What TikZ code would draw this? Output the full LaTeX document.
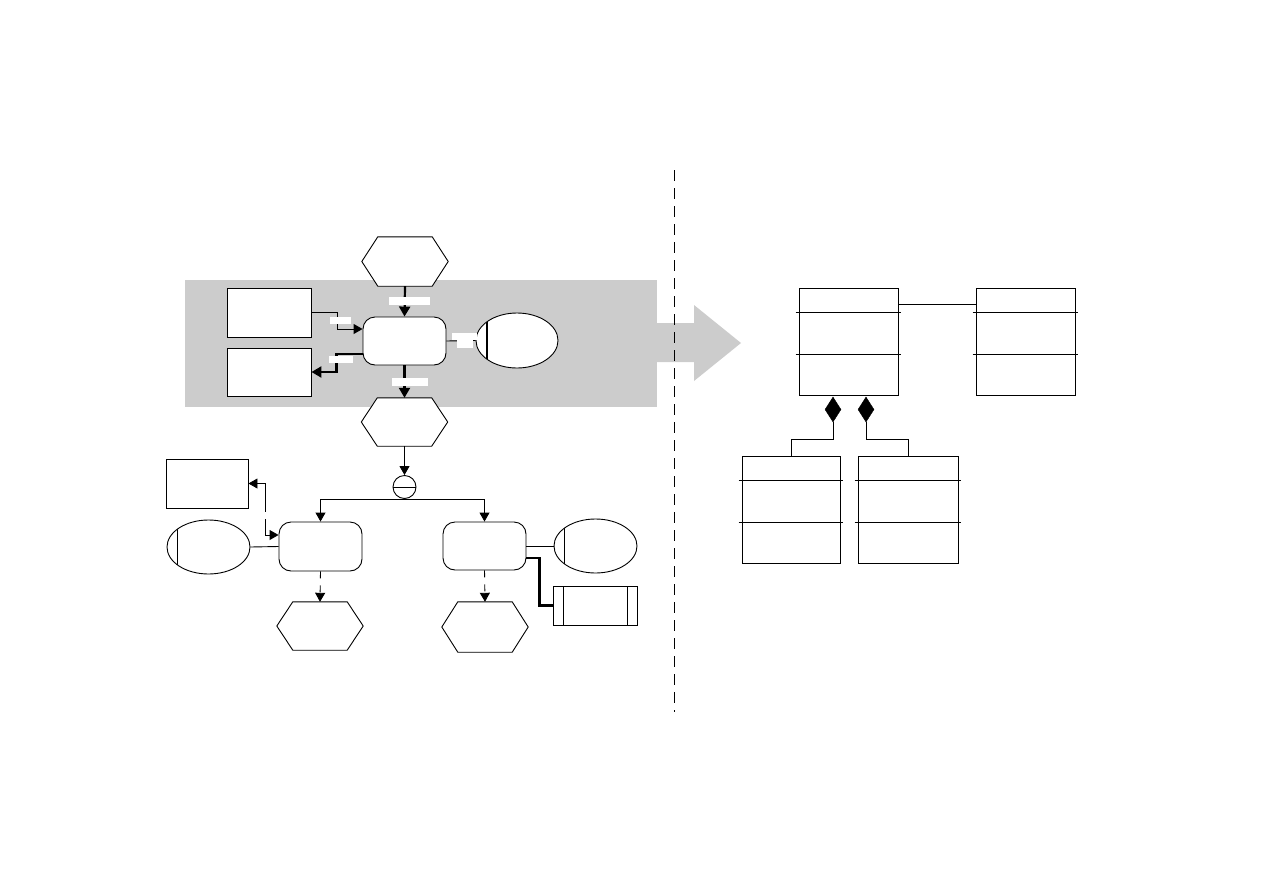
\documentclass[tikz,border=0pt]{standalone}
\usetikzlibrary{arrows.meta,shapes.geometric}
\begin{document}
\begin{tikzpicture}[x=1pt,y=-1pt,
  outl/.style={draw=black, line width=0.9pt, fill=white, inner sep=0pt},
  plain/.style={outl, rectangle},
  func/.style={outl, rectangle, rounded corners=12pt},
  evt/.style={rectangle, inner sep=0pt, draw=none},
  org/.style={outl, ellipse, path picture={\draw[line width=#1] ([xshift=10.5pt]path picture bounding box.south west) -- ([xshift=10.5pt]path picture bounding box.north west);}},
  org/.default=0.9pt,
  app/.style={outl, rectangle, path picture={
     \draw[line width=0.9pt] ([xshift=10pt]path picture bounding box.south west) -- ([xshift=10pt]path picture bounding box.north west);
     \draw[line width=0.9pt] ([xshift=-10pt]path picture bounding box.south east) -- ([xshift=-10pt]path picture bounding box.north east);}},
  cls/.style={outl, rectangle, minimum height=107pt},
  lbl/.style={fill=white, draw=none, inner sep=0pt},
  thin/.style={line width=0.9pt},
  thick/.style={line width=2.2pt},
  tipthin/.style={-{Triangle[length=9pt,width=10pt]}},
  tipthick/.style={-{Triangle[length=10pt,width=11pt]}},
  dia/.style={diamond, fill=black, draw=black, inner sep=0pt, minimum width=16pt, minimum height=25pt}
]
\useasboundingbox (0,0) rectangle (1263,894);
\newcommand\hexpath[1]{\draw[thin, fill=white] (#1.west) -- ([xshift=16pt]#1.north west) -- ([xshift=-16pt]#1.north east) -- (#1.east) -- ([xshift=-16pt]#1.south east) -- ([xshift=16pt]#1.south west) -- cycle;}

% gray band and big arrow
\fill[gray!40] (185,280) rectangle (657,407);
\fill[gray!40] (656,323) -- (694,323) -- (694,305) -- (741,343) -- (694,381) -- (694,362) -- (656,362) -- cycle;

% dashed separator
\coordinate (s1) at (674,170);
\coordinate (s2) at (674,712);
\draw[line width=0.9pt, dash pattern=on 11pt off 7pt] (s1) -- (s2);

% events (hexagons)
\node[evt, minimum width=86pt, minimum height=49pt] (e1) at (405,261.5) {};
\node[evt, minimum width=86pt, minimum height=48pt] (e2) at (404.5,422) {};
\node[evt, minimum width=86pt, minimum height=48pt] (e3) at (320,626) {};
\node[evt, minimum width=86pt, minimum height=50pt] (e4) at (485,627) {};
\hexpath{e1}\hexpath{e2}\hexpath{e3}\hexpath{e4}

% functions
\node[func, minimum width=83pt, minimum height=48pt] (f1) at (404.5,341) {};
\node[func, minimum width=83pt, minimum height=49pt] (f2) at (320.5,546.5) {};
\node[func, minimum width=83pt, minimum height=48pt] (f3) at (484.5,546) {};

% plain boxes
\node[plain, minimum width=84pt, minimum height=49pt] (A) at (269,312.5) {};
\node[plain, minimum width=84pt, minimum height=48pt] (B) at (269,372) {};
\node[plain, minimum width=82pt, minimum height=49pt] (C) at (207,483.5) {};

% org units
\node[org=2pt, minimum width=82pt, minimum height=55pt] (o1) at (517,340.5) {};
\node[org, minimum width=83pt, minimum height=54pt] (o2) at (208.5,547) {};
\node[org, minimum width=83pt, minimum height=54pt] (o3) at (595.5,546) {};

% application system
\node[app, minimum width=84pt, minimum height=39pt] (ap) at (595,605.5) {};

% connector circle
\node[outl, circle, minimum size=23pt] (x1) at (404.5,487) {};
\draw[thin] (x1.west) -- (x1.east);

% connectors
\draw[thick, tipthick] (e1.south) -- (f1.north);
\draw[thick, tipthick] (f1.south) -- (e2.north);
\draw[thin, tipthin] (A.east) -- ++(26,0) |- ([yshift=12pt]f1.west);
\draw[thick, tipthick] ([yshift=-13pt]f1.west) -- ++(-26,0) |- (B.east);
\draw[thin] (f1.east) -- (o1.west);
\draw[thin, tipthin] (e2.south) -- (x1.north);
\draw[thin, tipthin] (x1.south) -| (f2.north);
\draw[thin, tipthin] (x1.south) -| (f3.north);
\draw[thin, {Triangle[length=9pt,width=10pt]}-{Triangle[length=9pt,width=10pt]}, dash pattern=on 37pt off 7pt on 300pt] (C.east) -- ++(17,0) |- ([yshift=11.5pt]f2.west);
\draw[thin] (o2.east) -- (f2.west);
\draw[thin, tipthin, dash pattern=on 7pt off 7pt] (f2.south) -- (e3.north);
\draw[thin, tipthin, dash pattern=on 7pt off 7pt] (f3.south) -- (e4.north);
\draw[thin] (f3.east) -- (o3.west);
\draw[thick] ([yshift=-12pt]f3.east) -- ++(13,0) |- (ap.west);

% connector labels
\node[lbl, minimum width=41pt, minimum height=8pt] (l1) at (409.5,301) {};
\node[lbl, minimum width=21pt, minimum height=7pt] (l2) at (340.5,320.5) {};
\node[lbl, minimum width=24pt, minimum height=7pt] (l3) at (341,359.5) {};
\node[lbl, minimum width=36pt, minimum height=8pt] (l4) at (410,382) {};
\node[lbl, minimum width=25pt, minimum height=7pt] (l5) at (464.5,336.5) {};
\node[lbl, minimum width=16pt, minimum height=8pt] (l6) at (465,344) {};

% UML classes
\node[cls, minimum width=99pt] (K1) at (848.5,341.5) {};
\node[cls, minimum width=99pt] (K2) at (1025.5,341.5) {};
\node[cls, minimum width=98pt] (K3) at (791,509.5) {};
\node[cls, minimum width=100pt] (K4) at (908,509.5) {};
\foreach \k in {K1,K2,K3,K4}{
  \draw[thin] ([xshift=-3pt,yshift=-25pt]\k.north west) -- ([xshift=3pt,yshift=-25pt]\k.north east);
  \draw[thin] ([xshift=-3pt,yshift=-67pt]\k.north west) -- ([xshift=3pt,yshift=-67pt]\k.north east);
}
\draw[thin] ([yshift=37.5pt]K1.east) -- ([yshift=37.5pt]K2.west);
\node[dia] (d1) at (833,409.5) {};
\node[dia] (d2) at (866,409.5) {};
\draw[thin] (d1.south) -- ++(0,17) -| (K3.north);
\draw[thin] (d2.south) -- ++(0,17) -| (K4.north);
\end{tikzpicture}
\end{document}
